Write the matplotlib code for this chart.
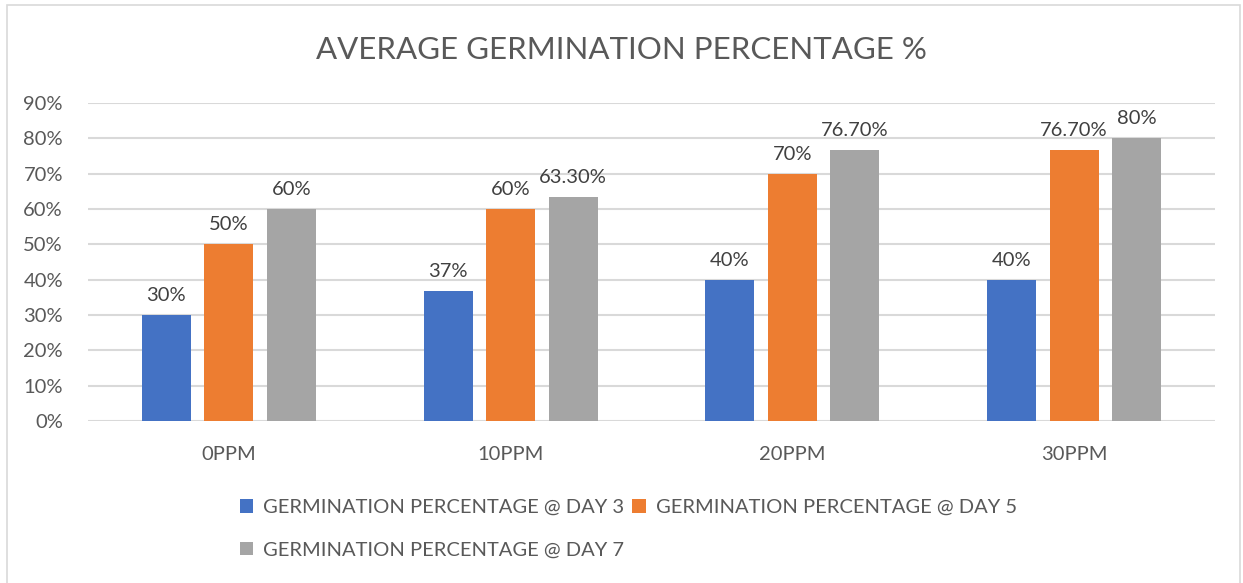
import matplotlib.pyplot as plt
import matplotlib.patches as mpatches
import numpy as np

plt.rcParams['font.family'] = ['Lato', 'DejaVu Sans']

categories = ['0PPM', '10PPM', '20PPM', '30PPM']
day3 = [30, 36.7, 40, 40]
day5 = [50, 60, 70, 76.7]
day7 = [60, 63.3, 76.7, 80]
labels3 = ['30%', '37%', '40%', '40%']
labels5 = ['50%', '60%', '70%', '76.70%']
labels7 = ['60%', '63.30%', '76.70%', '80%']
series_names = ['GERMINATION PERCENTAGE @ DAY 3',
                'GERMINATION PERCENTAGE @ DAY 5',
                'GERMINATION PERCENTAGE @ DAY 7']
colors = ['#4472C4', '#ED7D31', '#A5A5A5']
text_col = '#595959'

fig = plt.figure(figsize=(12.43, 5.83), dpi=100)
# chart border
fig.patches.append(mpatches.Rectangle((7/1243, -0.05), 1233/1243, 1 - 5/583 + 0.05,
                                      transform=fig.transFigure, fill=False,
                                      edgecolor='#D9D9D9', linewidth=1.2))
ax = fig.add_axes([88/1243, 1 - 421/583, 1127/1243, 318/583])

x = np.arange(len(categories))
w = 0.174
off = 0.222
handles = []
for i, (vals, labs) in enumerate([(day3, labels3), (day5, labels5), (day7, labels7)]):
    b = ax.bar(x + (i - 1) * off, vals, w, color=colors[i], zorder=3, label=series_names[i])
    handles.append(b)
    for xi, v, lab in zip(x + (i - 1) * off, vals, labs):
        ax.annotate(lab, (xi, v), xytext=(0, 8), textcoords='offset points',
                    ha='center', va='bottom', fontsize=14.5, color='#404040')

ax.set_xlim(-0.5, 3.5)
ax.set_ylim(0, 90)
ax.set_yticks(range(0, 91, 10))
ax.set_yticklabels([f'{v}%' for v in range(0, 91, 10)])
ax.set_xticks(x)
ax.set_xticklabels(categories)
ax.tick_params(axis='y', length=0, pad=18, labelsize=14.5, labelcolor=text_col)
ax.tick_params(axis='x', length=0, pad=18, labelsize=14.5, labelcolor=text_col)
ax.grid(axis='y', color='#D9D9D9', linewidth=1.5, zorder=0)
for s in ax.spines.values():
    s.set_visible(False)

fig.text(0.5, 1 - 50/583, 'AVERAGE GERMINATION PERCENTAGE %', ha='center', va='center',
         fontsize=22.5, color=text_col)

leg = fig.legend([handles[0], handles[2], handles[1]],
                 [series_names[0], series_names[2], series_names[1]],
                 ncol=2, loc='upper left', bbox_to_anchor=(222/1243, 1 - 481/583),
                 frameon=False, fontsize=14.5, handlelength=0.65, handleheight=0.65,
                 handletextpad=0.5, columnspacing=0.4, labelspacing=1.25,
                 labelcolor=text_col)

fig.savefig('out.png', dpi=100)
